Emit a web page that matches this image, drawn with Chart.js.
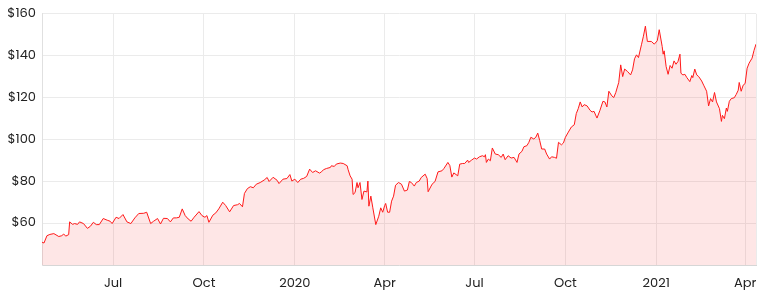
<!DOCTYPE html>
<html>
<head>
<meta charset="utf-8">
<script src="https://cdn.jsdelivr.net/npm/chart.js@4.4.1/dist/chart.umd.min.js"></script>
<style>
  html, body { margin: 0; padding: 0; background: #fff; }
  #wrap { width: 761px; height: 295px; }
</style>
</head>
<body>
<div id="wrap"><canvas id="priceChart" width="761" height="295"></canvas></div>
<script>
const startDate = '2019-04-20';
const endDate = '2021-04-12';

const priceDates = [
  '2019-04-20','2019-04-22','2019-04-25','2019-04-28','2019-05-02','2019-05-07','2019-05-10','2019-05-12','2019-05-14','2019-05-17',
  '2019-05-18','2019-05-21','2019-05-23','2019-05-26','2019-05-28','2019-06-01','2019-06-05','2019-06-08','2019-06-11','2019-06-14',
  '2019-06-17','2019-06-21','2019-06-25','2019-06-28','2019-06-30','2019-07-04','2019-07-07','2019-07-11','2019-07-15','2019-07-19',
  '2019-07-23','2019-07-27','2019-08-01','2019-08-04','2019-08-08','2019-08-11','2019-08-15','2019-08-18','2019-08-21','2019-08-25',
  '2019-08-28','2019-08-31','2019-09-03','2019-09-06','2019-09-09','2019-09-12','2019-09-15','2019-09-18','2019-09-21','2019-09-26',
  '2019-09-29','2019-10-02','2019-10-04','2019-10-06','2019-10-10','2019-10-13','2019-10-16','2019-10-20','2019-10-23','2019-10-27',
  '2019-10-31','2019-11-04','2019-11-06','2019-11-09','2019-11-11','2019-11-14','2019-11-17','2019-11-20','2019-11-23','2019-11-27',
  '2019-12-01','2019-12-04','2019-12-06','2019-12-10','2019-12-14','2019-12-16','2019-12-20','2019-12-24','2019-12-27','2019-12-29',
  '2020-01-01','2020-01-04','2020-01-07','2020-01-10','2020-01-13','2020-01-16','2020-01-19','2020-01-22','2020-01-26','2020-01-28',
  '2020-01-30','2020-02-02','2020-02-06','2020-02-07','2020-02-10','2020-02-12','2020-02-16','2020-02-19','2020-02-23','2020-02-24',
  '2020-02-26','2020-02-28','2020-02-29','2020-03-02','2020-03-04','2020-03-05','2020-03-07','2020-03-09','2020-03-11','2020-03-14',
  '2020-03-15','2020-03-16','2020-03-18','2020-03-20','2020-03-23','2020-03-26','2020-03-28','2020-03-30','2020-04-01','2020-04-02',
  '2020-04-04','2020-04-06','2020-04-08','2020-04-10','2020-04-12','2020-04-15','2020-04-18','2020-04-21','2020-04-24','2020-04-26',
  '2020-04-28','2020-05-01','2020-05-03','2020-05-06','2020-05-08','2020-05-12','2020-05-14','2020-05-15','2020-05-19','2020-05-22',
  '2020-05-25','2020-05-29','2020-05-31','2020-06-04','2020-06-06','2020-06-08','2020-06-10','2020-06-14','2020-06-16','2020-06-19',
  '2020-06-21','2020-06-24','2020-06-25','2020-06-28','2020-07-01','2020-07-03','2020-07-06','2020-07-09','2020-07-11','2020-07-12',
  '2020-07-13','2020-07-15','2020-07-17','2020-07-19','2020-07-22','2020-07-25','2020-07-28','2020-07-30','2020-08-01','2020-08-04',
  '2020-08-07','2020-08-10','2020-08-13','2020-08-15','2020-08-18','2020-08-20','2020-08-23','2020-08-25','2020-08-27','2020-08-30',
  '2020-09-01','2020-09-03','2020-09-05','2020-09-07','2020-09-10','2020-09-12','2020-09-15','2020-09-17','2020-09-20','2020-09-22',
  '2020-09-24','2020-09-27','2020-09-29','2020-10-01','2020-10-04','2020-10-07','2020-10-10','2020-10-12','2020-10-14','2020-10-16',
  '2020-10-18','2020-10-20','2020-10-23','2020-10-26','2020-10-28','2020-10-30','2020-11-01','2020-11-02','2020-11-05','2020-11-08',
  '2020-11-10','2020-11-12','2020-11-14','2020-11-17','2020-11-19','2020-11-21','2020-11-24','2020-11-26','2020-11-28','2020-11-30',
  '2020-12-03','2020-12-06','2020-12-08','2020-12-10','2020-12-12','2020-12-14','2020-12-17','2020-12-19','2020-12-21','2020-12-23',
  '2020-12-27','2020-12-30','2021-01-02','2021-01-04','2021-01-07','2021-01-08','2021-01-09','2021-01-11','2021-01-13','2021-01-15',
  '2021-01-17','2021-01-19','2021-01-21','2021-01-23','2021-01-25','2021-01-26','2021-01-28','2021-01-30','2021-02-01','2021-02-04',
  '2021-02-06','2021-02-07','2021-02-09','2021-02-11','2021-02-13','2021-02-16','2021-02-18','2021-02-21','2021-02-23','2021-02-25',
  '2021-02-27','2021-03-01','2021-03-03','2021-03-06','2021-03-08','2021-03-09','2021-03-11','2021-03-13','2021-03-14','2021-03-16',
  '2021-03-18','2021-03-21','2021-03-23','2021-03-25','2021-03-26','2021-03-28','2021-03-30','2021-04-01','2021-04-03','2021-04-05',
  '2021-04-08','2021-04-10','2021-04-12'
];

const priceValues = [
  50.9,50.5,54.0,54.6,55.0,53.6,54.0,54.8,53.8,54.5,
  60.6,59.4,59.8,59.4,60.6,59.8,57.5,58.5,60.4,59.3,
  59.3,62.2,61.4,60.9,59.8,62.8,62.2,64.1,60.6,59.8,
  62.5,64.6,64.7,65.2,59.8,60.9,62.2,59.6,62.3,62.2,
  60.6,62.5,62.5,62.8,66.8,63.6,62.0,60.9,62.8,65.5,
  63.6,62.8,63.6,60.4,63.8,64.9,66.8,70.0,68.4,65.4,
  68.4,68.8,69.4,67.8,74.2,76.5,77.4,76.9,78.6,79.4,
  80.6,81.8,79.9,81.9,80.5,78.9,81.0,81.3,83.2,80.1,
  81.0,79.4,81.0,81.4,82.3,85.8,84.2,85.0,83.9,84.5,
  85.5,86.1,86.6,87.4,87.1,88.2,88.7,88.5,87.4,85.5,
  82.6,81.0,73.7,74.6,79.4,76.9,79.4,71.3,75.3,74.9,
  80.1,68.1,72.9,67.3,59.3,63.3,67.3,65.2,68.4,69.4,
  65.2,65.2,70.5,72.9,78.1,79.4,78.6,75.3,75.8,79.9,
  79.4,77.7,79.4,80.1,81.8,83.4,81.3,75.0,78.6,79.9,
  84.5,85.0,86.1,89.0,87.5,82.0,84.0,82.6,88.2,88.5,
  88.5,90.1,89.0,90.1,91.1,90.6,91.7,92.2,91.7,92.7,
  89.0,90.6,89.8,95.9,93.0,92.7,91.4,93.0,90.3,92.2,
  91.1,91.4,89.0,93.0,94.3,96.5,97.0,98.6,101.0,100.2,
  101.0,103.0,99.4,95.4,95.4,93.0,90.6,91.7,91.4,91.0,
  98.6,97.4,98.3,101.0,103.5,105.9,107.0,112.3,114.7,117.9,
  115.5,116.6,116.0,113.9,113.1,113.4,111.2,110.2,113.9,118.2,
  117.9,115.5,123.0,120.8,120.0,122.4,127.2,135.6,130.0,133.6,
  132.4,130.8,133.2,138.5,140.4,139.1,145.2,149.3,154.1,146.8,
  146.8,145.5,147.1,152.4,144.4,140.7,142.3,134.8,131.1,135.3,
  134.0,137.5,135.9,137.2,140.7,131.6,130.8,131.1,129.5,127.6,
  130.5,129.5,133.6,130.8,130.0,127.9,125.9,123.0,116.0,119.5,
  117.9,122.4,117.9,114.7,108.6,111.5,109.9,115.0,113.4,118.2,
  119.5,119.9,121.5,123.5,127.2,123.0,125.9,126.7,134.0,136.4,
  138.8,142.5,145.5
];

const xTickDates = ['2019-07-01','2019-10-01','2020-01-01','2020-04-01','2020-07-01','2020-10-01','2021-01-01','2021-04-01'];
const xTickLabels = ['Jul','Oct','2020','Apr','Jul','Oct','2021','Apr'];
const yTicks = [40, 60, 80, 100, 120, 140, 160];

function dayNum(s) {
  const p = s.split('-').map(Number);
  return Math.round((Date.UTC(p[0], p[1] - 1, p[2]) - Date.UTC(2019, 3, 20)) / 86400000);
}

const points = priceDates.map((d, i) => ({ x: dayNum(d), y: priceValues[i] }));
const tickDays = xTickDates.map(dayNum);
const minDay = dayNum(startDate);
const maxDay = dayNum(endDate);

const font = { family: "Poppins, 'Noto Sans', sans-serif", size: 13 };

new Chart(document.getElementById('priceChart'), {
  type: 'line',
  data: {
    datasets: [{
      data: points,
      borderColor: '#ff1a1a',
      borderWidth: 1,
      backgroundColor: 'rgba(250, 80, 80, 0.14)',
      fill: 'start',
      pointRadius: 0,
      tension: 0
    }]
  },
  options: {
    responsive: false,
    animation: false,
    layout: { padding: { top: 12, right: 5, left: 0, bottom: 0 } },
    plugins: { legend: { display: false }, tooltip: { enabled: false } },
    scales: {
      x: {
        type: 'linear',
        min: minDay,
        max: maxDay,
        afterBuildTicks: (axis) => {
          axis.ticks = tickDays.map(v => ({ value: v })).concat([{ value: maxDay }]);
        },
        afterFit: (axis) => { axis.height = 30; },
        ticks: {
          autoSkip: false,
          maxRotation: 0,
          padding: 2,
          color: '#222',
          font: { family: font.family, size: 13, lineHeight: 2.6 },
          callback: (value) => {
            const i = tickDays.indexOf(value);
            return i >= 0 ? xTickLabels[i] : '';
          }
        },
        grid: { color: '#ebebeb', drawTicks: false },
        border: { color: '#d6d6d6' }
      },
      y: {
        min: 40,
        max: 160,
        afterBuildTicks: (axis) => {
          axis.ticks = yTicks.map(v => ({ value: v }));
        },
        afterFit: (axis) => { axis.width = 42; },
        ticks: {
          padding: 6,
          color: '#222',
          font: font,
          callback: (value) => value === 40 ? '' : '$' + value
        },
        grid: { color: '#ebebeb', drawTicks: false },
        border: { color: '#e0e0e0' }
      }
    }
  }
});
</script>
</body>
</html>
